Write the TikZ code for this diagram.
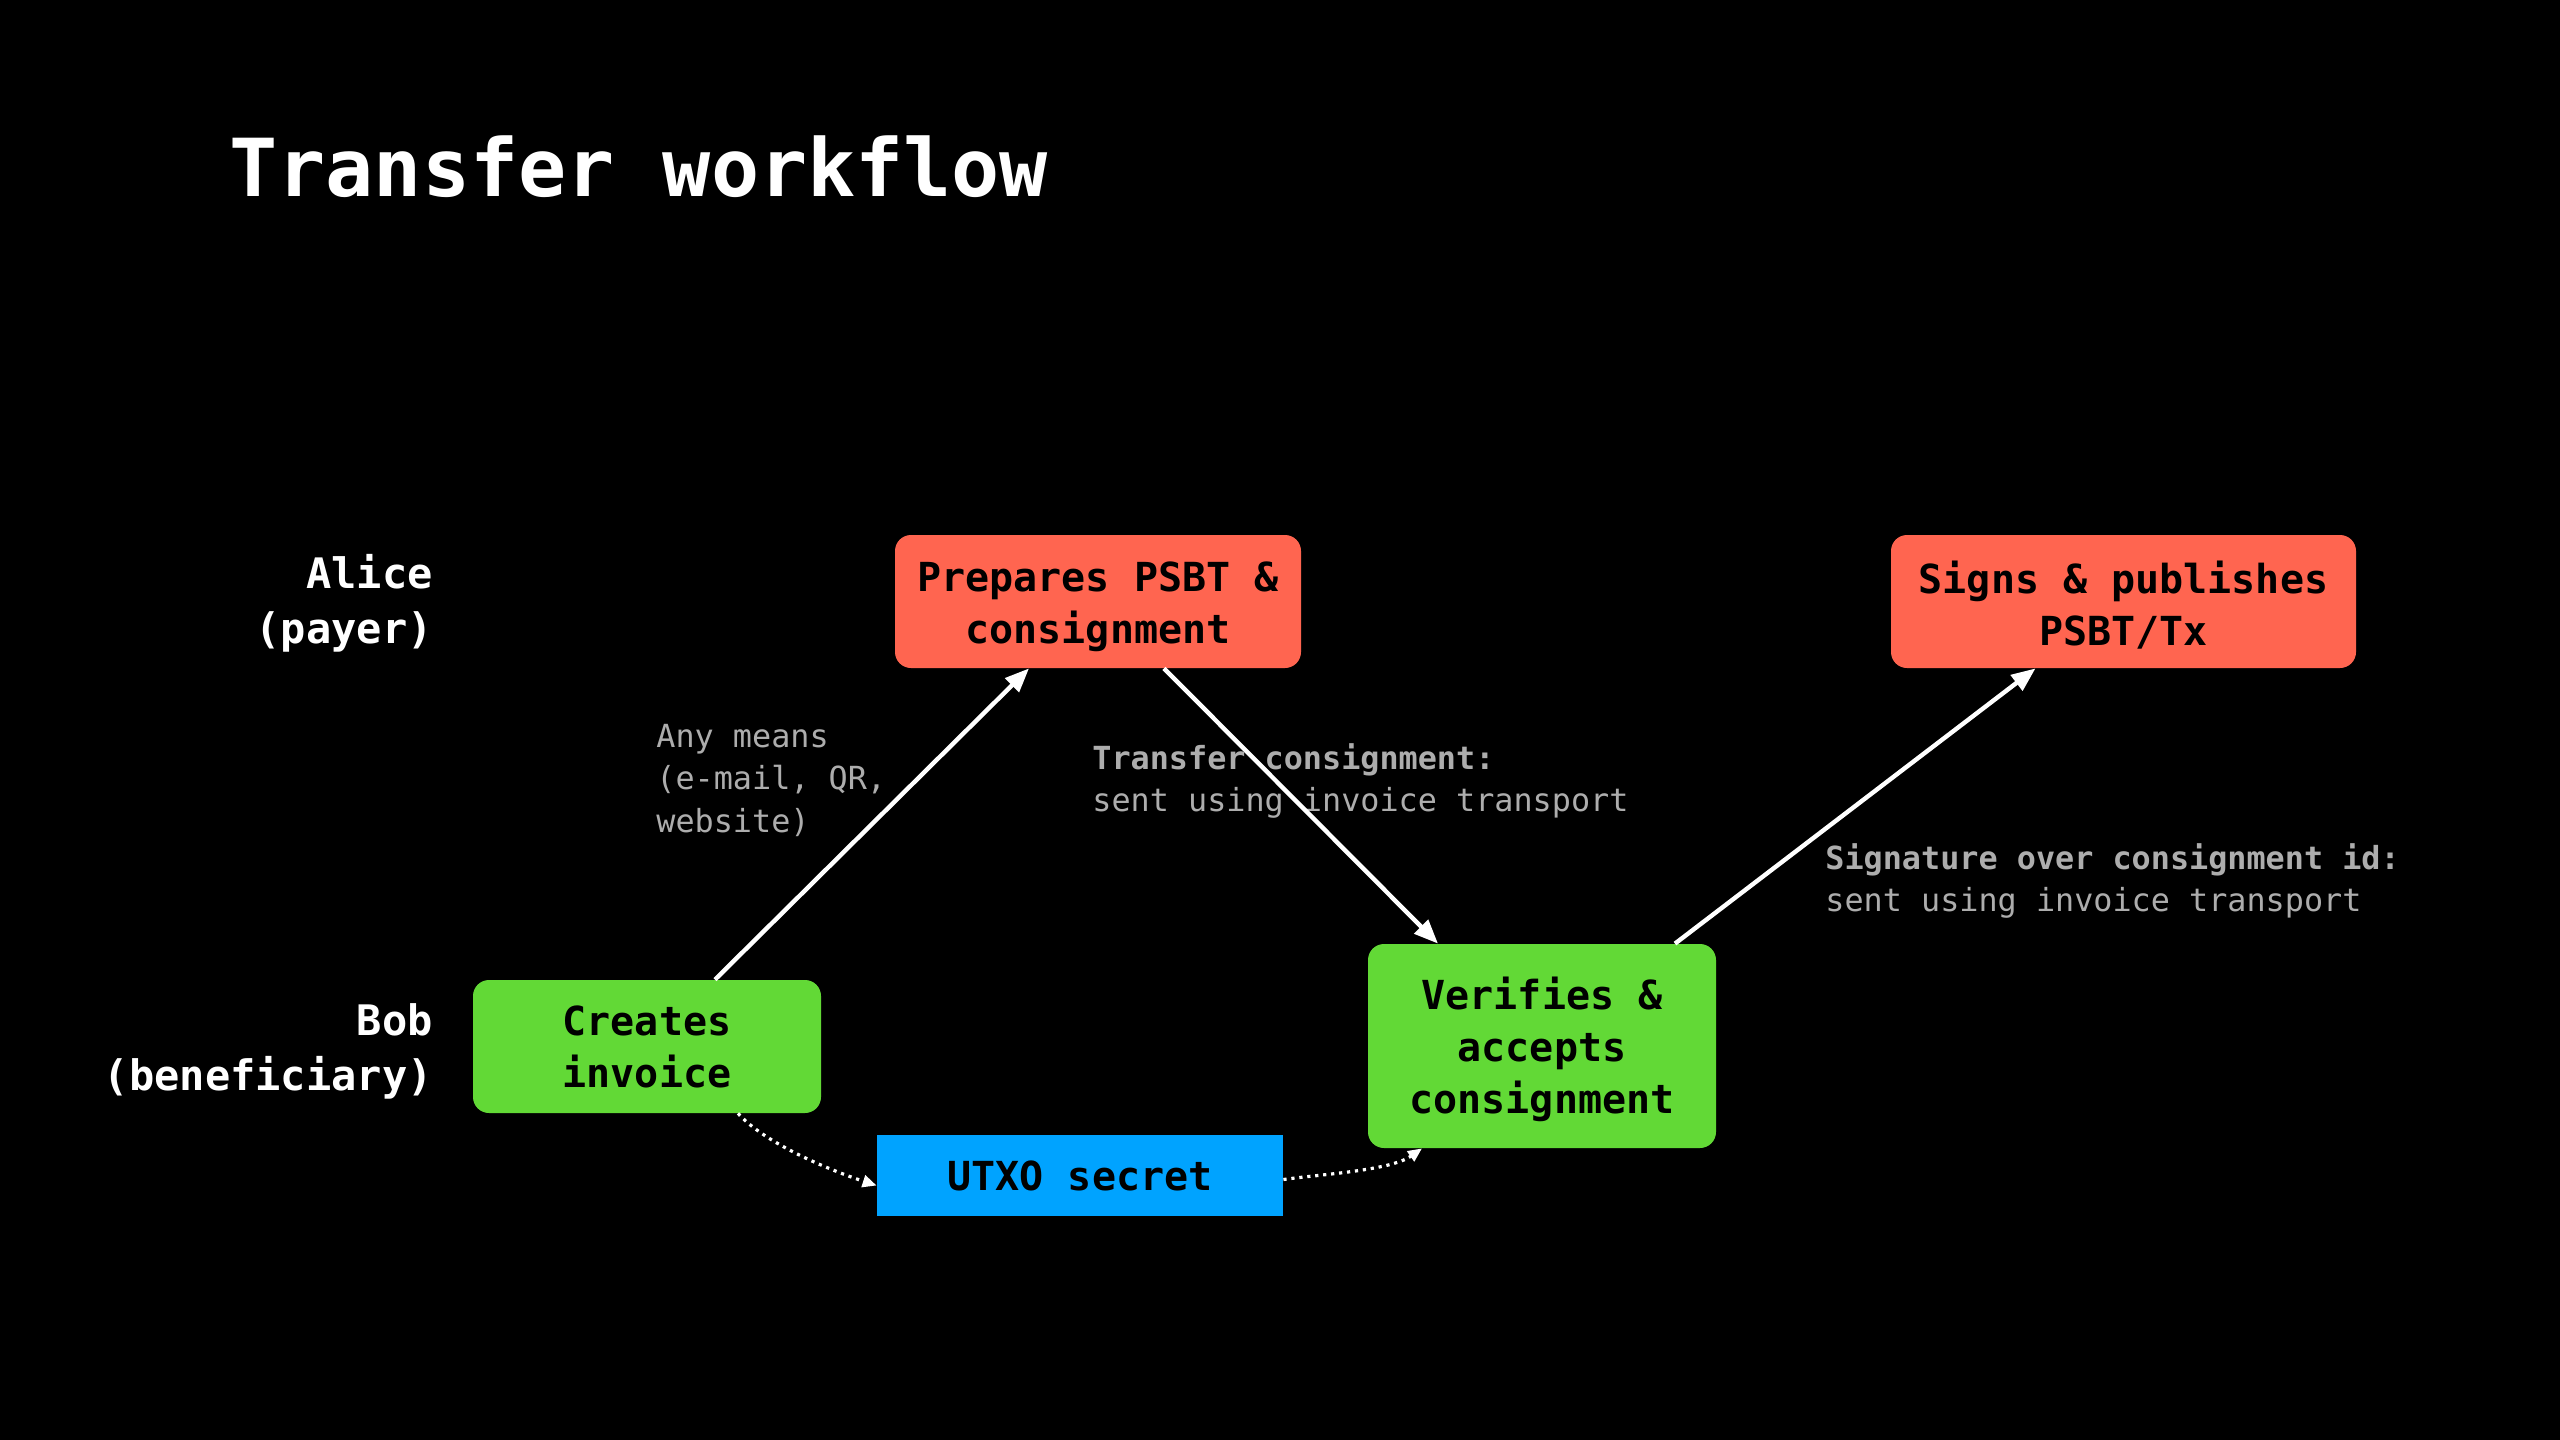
\documentclass[tikz,border=0pt]{standalone}
\usepackage{fontspec}
\setmainfont{DejaVu Sans Mono}
\usetikzlibrary{arrows.meta}
\definecolor{boxred}{HTML}{FF6550}
\definecolor{boxgreen}{HTML}{62D936}
\definecolor{boxblue}{HTML}{00A3FF}
\definecolor{annotgray}{HTML}{ADADAD}
\newcommand\myupstrut{\rule{0pt}{19.8pt}}
\begin{document}
\begin{tikzpicture}[x=0.5pt,y=-0.5pt,
  box/.style={text=black, font=\fontsize{20}{26}\selectfont\bfseries, align=center, inner sep=0pt},
  rbox/.style={box, rounded corners=8pt},
  role/.style={text=white, font=\fontsize{21}{27.5}\selectfont\bfseries, align=right, inner sep=0pt, anchor=east},
  annot/.style={text=annotgray, font=\fontsize{15.9}{21.2}\selectfont, align=left, inner sep=0pt, anchor=north west},
  flow/.style={white, line width=2.2pt, -{Triangle[length=12pt,width=9.5pt]}},
  dotflow/.style={white, line width=1.6pt, dash pattern=on 1.6pt off 2.4pt, -{Triangle[length=7pt,width=6pt]}}
]
\fill[black] (0,0) rectangle (2560,1440);
\useasboundingbox (0,0) rectangle (2560,1440);

\node[text=white, font=\fontsize{40}{48}\selectfont\bfseries, anchor=base west, inner sep=0pt] (title) at (229,196) {Transfer workflow};

\node[role] (alice) at (433,603) {Alice\\(payer)};
\node[role] (bob) at (433,1051) {Bob\\(beneficiary)};

\node[rbox, fill=boxred, minimum width=203pt, minimum height=66.5pt] (prep) at (1098,601.5) {\myupstrut Prepares PSBT \&\\consignment};
\node[rbox, fill=boxred, minimum width=232.5pt, minimum height=66.5pt] (signs) at (2123.5,601.5) {\myupstrut Signs \& publishes\\PSBT/Tx};
\node[rbox, fill=boxgreen, minimum width=174pt, minimum height=66.5pt] (inv) at (647,1046.5) {Creates\\invoice};
\node[rbox, fill=boxgreen, minimum width=174pt, minimum height=102pt] (verif) at (1542,1046) {\myupstrut Verifies \&\\accepts\\consignment};
\node[box, fill=boxblue, minimum width=203pt, minimum height=40.5pt] (utxo) at (1080,1175.5) {UTXO secret};

\node[annot] (anymeans) at (656,724) {Any means\\(e-mail, QR,\\website)};
\node[annot] (transfer) at (1092,743) {\textbf{Transfer consignment:}\\sent using invoice transport};
\node[annot] (signature) at (1825,843) {\textbf{Signature over consignment id:}\\sent using invoice transport};

\draw[flow] ([xshift=34pt]inv.north) -- ([xshift=-34.5pt]prep.south);
\draw[flow] ([xshift=33pt]prep.south) -- ([xshift=-52pt]verif.north);
\draw[flow] ([xshift=66.5pt]verif.north) -- ([xshift=-44pt]signs.south);
\draw[dotflow] ([xshift=45.5pt]inv.south) to[out=-48, in=162, looseness=0.7] ([yshift=-5pt]utxo.west);
\draw[dotflow] ([yshift=-2pt]utxo.east) to[out=8, in=-145, looseness=0.7] ([xshift=-60pt]verif.south);
\end{tikzpicture}
\end{document}
